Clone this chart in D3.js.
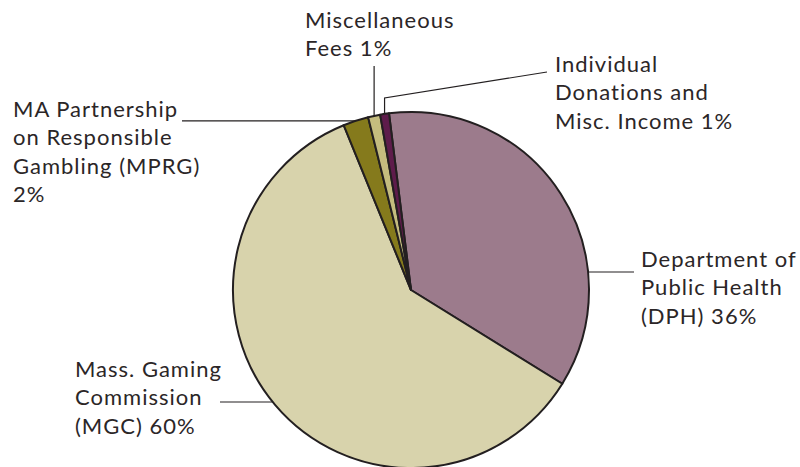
<!DOCTYPE html>
<html>
<head>
<meta charset="utf-8">
<script src="https://cdn.jsdelivr.net/npm/d3@7"></script>
<style>
  body { margin: 0; background: #fff; }
  text { font-family: Lato, "Open Sans", sans-serif; fill: #2b2627; }
</style>
</head>
<body>
<script>
// funding sources, clockwise from the top
var sources = ["DPH", "MGC", "MPRG", "Misc Fees", "Individual"];
var shares  = [35.8, 60.0, 2.3, 1.1, 0.8];
var colours = ["#9c7b8c", "#d8d3ac", "#857a1c", "#c4bc7e", "#5e1c4b"];
var labelLines = [
  ["Department of", "Public Health", "(DPH) {p}%"],
  ["Mass. Gaming", "Commission", "(MGC) {p}%"],
  ["MA Partnership", "on Responsible", "Gambling (MPRG)", "{p}%"],
  ["Miscellaneous", "Fees {p}%"],
  ["Individual", "Donations and", "Misc. Income {p}%"]
];

var width = 800, height = 467;
var cx = 411, cy = 290, r = 178;
var start = -7.1 * Math.PI / 180;

var svg = d3.select("body").append("svg")
  .attr("width", width)
  .attr("height", height);

var pie = d3.pie().sort(null)
  .startAngle(start)
  .endAngle(start + 2 * Math.PI);

var arcs = pie(shares);
var arc = d3.arc().innerRadius(0).outerRadius(r);

var g = svg.append("g").attr("transform", "translate(" + cx + "," + cy + ")");

g.selectAll("path.slice")
  .data(arcs)
  .enter().append("path")
  .attr("class", "slice")
  .attr("d", arc)
  .attr("fill", function(d, i) { return colours[i]; })
  .attr("stroke", "#231f20")
  .attr("stroke-width", 2)
  .attr("stroke-linejoin", "round");

// point on the rim at a given angle (clockwise from top)
function rim(a) { return [cx + r * Math.sin(a), cy - r * Math.cos(a)]; }
// point on the rim at a given y, left or right side
function rimAtY(y, side) { return [cx + side * Math.sqrt(r * r - (y - cy) * (y - cy)), y]; }
function mid(d) { return (d.startAngle + d.endAngle) / 2; }

// label placement: text x, first baseline, leader line
var labelX  = [641, 75, 13, 305, 555];
var labelY  = [267, 377, 117, 28, 72];
var leaders = [
  function() { var p = rimAtY(272, 1); return [p, [634, 272]]; },
  function() { var p = rimAtY(402, -1); return [[220, 402], p]; },
  function(d) { var p = rim(mid(d)); return [[182, p[1]], p]; },
  function(d) { var p = rim(mid(d)); return [[p[0], 66], p]; },
  function(d) { var p = rim(mid(d)); return [[547, 72], [p[0], 98], p]; }
];

var line = d3.line();

svg.selectAll("path.leader")
  .data(arcs)
  .enter().append("path")
  .attr("class", "leader")
  .attr("d", function(d, i) { return line(leaders[i](d)); })
  .attr("fill", "none")
  .attr("stroke", "#231f20")
  .attr("stroke-width", 1.2);

var labels = svg.selectAll("text.label")
  .data(arcs)
  .enter().append("text")
  .attr("class", "label")
  .attr("x", function(d, i) { return labelX[i]; })
  .attr("y", function(d, i) { return labelY[i]; })
  .style("font-size", "22px")
  .style("letter-spacing", "1px");

labels.each(function(d, i) {
  var t = d3.select(this);
  labelLines[i].forEach(function(s, j) {
    t.append("tspan")
      .attr("x", labelX[i])
      .attr("dy", j === 0 ? 0 : 28.3)
      .text(s.replace("{p}", Math.round(d.data)));
  });
});
</script>
</body>
</html>
